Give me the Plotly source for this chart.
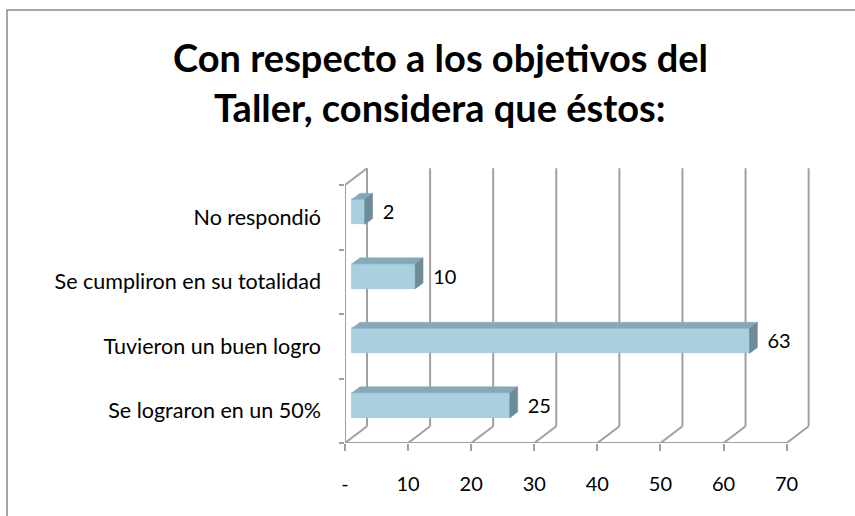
import plotly.graph_objects as go
import numpy as np

# ---------------- data ----------------
categories = ["Se lograron en un 50%", "Tuvieron un buen logro",
              "Se cumpliron en su totalidad", "No respondió"]
values = [25, 63, 10, 2]
x_ticks = [0, 10, 20, 30, 40, 50, 60, 70]
x_tick_labels = ["-", "10", "20", "30", "40", "50", "60", "70"]
title_lines = ["Con respecto a los objetivos del", "Taller, considera que éstos:"]

# ---------------- geometry / style ----------------
W, H = 855, 516
L, R, T, B = 345, 40, 163, 73
XMAX = 74.5
YMIN, YMAX = -0.5, 3.841
DX, DY = 3.49, 0.26          # depth offset of the back wall (data units)
F1, F2 = 0.32, 0.68          # bar front / back depth fraction
BH = 0.39                    # bar height (category units)
GRID = "#a0a0a0"
GW = 2
FONT = "Lato"

PW, PH = W - L - R, H - T - B


def px(xp):
    return (xp - L) / PW


def py(yp):
    return (H - B - yp) / PH


n = len(categories)
ypos = np.arange(n)
vals = np.array(values, dtype=float)
ytop_front = n - 0.5

shapes = []
# back wall verticals + floor diagonals
for xv in x_ticks:
    shapes.append(dict(type="line", xref="x", yref="y", layer="below",
                       x0=xv + DX, y0=YMIN + DY, x1=xv + DX, y1=ytop_front + DY,
                       line=dict(color=GRID, width=GW)))
    shapes.append(dict(type="line", xref="x", yref="y", layer="below",
                       x0=xv, y0=YMIN, x1=xv + DX, y1=YMIN + DY,
                       line=dict(color=GRID, width=GW)))
# front floor line
shapes.append(dict(type="line", xref="x", yref="y", layer="below",
                   x0=0, y0=YMIN, x1=x_ticks[-1], y1=YMIN,
                   line=dict(color=GRID, width=GW)))
# left wall front vertical + top diagonal
shapes.append(dict(type="line", xref="x", yref="y", layer="below",
                   x0=0, y0=YMIN, x1=0, y1=ytop_front,
                   line=dict(color=GRID, width=GW)))
shapes.append(dict(type="line", xref="x", yref="y", layer="below",
                   x0=0, y0=ytop_front, x1=DX, y1=ytop_front + DY,
                   line=dict(color=GRID, width=GW)))
# chart frame
shapes.append(dict(type="rect", xref="paper", yref="paper", layer="below",
                   x0=px(7), y0=py(10), x1=px(W + 20), y1=py(H + 20),
                   line=dict(color="#8a8a8a", width=1.5)))

fig = go.Figure()

# bar front faces
x0 = F1 * DX
fig.add_trace(go.Bar(
    orientation="h", y=ypos + F1 * DY, x=vals, base=x0, width=BH,
    marker=dict(color="#aacfdf", line=dict(color="#9cc3d3", width=0.8)),
    hoverinfo="skip", showlegend=False))

ddx = (F2 - F1) * DX
ddy = (F2 - F1) * DY
top_x, top_y, side_x, side_y = [], [], [], []
for i, v in enumerate(vals):
    yc = i + F1 * DY
    yt, yb = yc + BH / 2, yc - BH / 2
    x1 = x0 + v
    top_x += [x0, x1, x1 + ddx, x0 + ddx, x0, None]
    top_y += [yt, yt, yt + ddy, yt + ddy, yt, None]
    side_x += [x1, x1, x1 + ddx, x1 + ddx, x1, None]
    side_y += [yb, yt, yt + ddy, yb + ddy, yb, None]

fig.add_trace(go.Scatter(x=top_x, y=top_y, fill="toself", mode="lines",
                         fillcolor="#86a9b7", line=dict(color="#86a9b7", width=0.5),
                         hoverinfo="skip", showlegend=False))
fig.add_trace(go.Scatter(x=side_x, y=side_y, fill="toself", mode="lines",
                         fillcolor="#6d8c98", line=dict(color="#6d8c98", width=0.5),
                         hoverinfo="skip", showlegend=False))

# data labels
fig.add_trace(go.Scatter(
    x=x0 + vals + ddx + 1.6, y=ypos + F1 * DY - 0.04, mode="text",
    text=[str(int(v)) for v in vals], textposition="middle right",
    textfont=dict(family=FONT, size=20, color="#000000"),
    cliponaxis=False, hoverinfo="skip", showlegend=False))

annotations = [
    dict(xref="paper", yref="paper", x=px(440), y=py(57), text="<b>%s</b>" % title_lines[0],
         showarrow=False, xanchor="center", yanchor="middle",
         font=dict(family=FONT, size=38, color="#000000")),
    dict(xref="paper", yref="paper", x=px(440), y=py(107), text="<b>%s</b>" % title_lines[1],
         showarrow=False, xanchor="center", yanchor="middle",
         font=dict(family=FONT, size=38, color="#000000")),
]

fig.update_layout(
    width=W, height=H,
    margin=dict(l=L, r=R, t=T, b=B, pad=0),
    paper_bgcolor="white", plot_bgcolor="white",
    shapes=shapes, annotations=annotations,
    bargap=0, showlegend=False,
    xaxis=dict(range=[0, XMAX], tickvals=x_ticks, ticktext=x_tick_labels,
               showgrid=False, zeroline=False, showline=False, automargin=False,
               ticks="outside", ticklen=7, tickcolor=GRID, tickwidth=1.6,
               ticklabelstandoff=16,
               tickfont=dict(family=FONT, size=20, color="#000000"),
               fixedrange=True),
    yaxis=dict(range=[YMIN, YMAX], tickvals=list(ypos), ticktext=categories,
               showgrid=False, zeroline=False, showline=False, automargin=False,
               ticks="", ticklabelstandoff=23,
               tickfont=dict(family=FONT, size=21.5, color="#000000"),
               minor=dict(tickvals=[k - 0.5 for k in range(n + 1)], ticks="outside",
                          ticklen=5, tickcolor=GRID, tickwidth=1.6, showgrid=False),
               fixedrange=True),
)

fig.write_html("out.html", config={"displayModeBar": False},
               post_script="document.body.style.margin='0';document.body.style.overflow='hidden';")
